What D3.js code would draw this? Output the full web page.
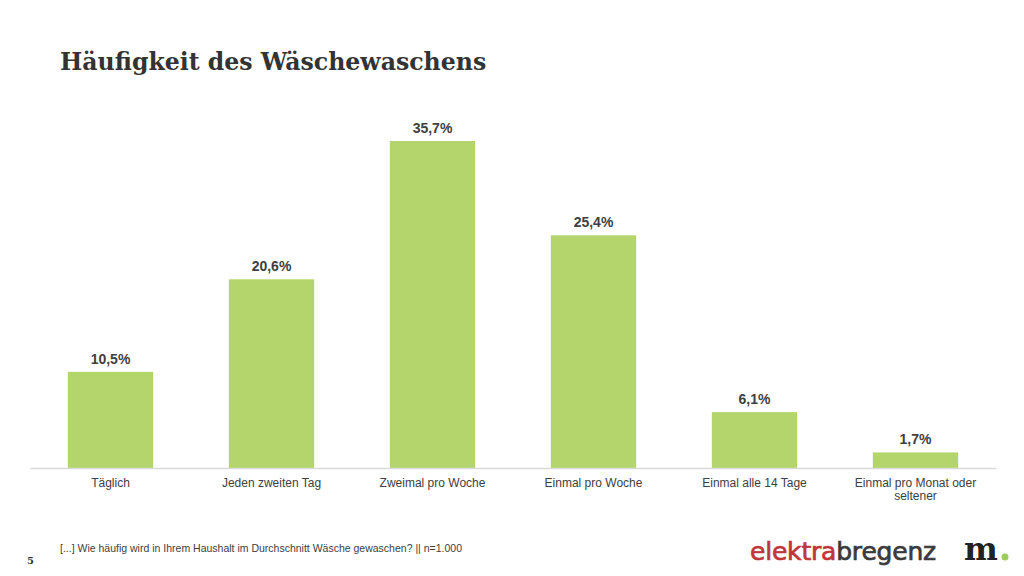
<!DOCTYPE html>
<html><head><meta charset="utf-8">
<script src="https://cdn.jsdelivr.net/npm/d3@7"></script>
<style>body{margin:0;background:#fff}svg{display:block}</style>
</head><body>
<svg id="c" width="1024" height="576"></svg>
<script>
const categories = ["Täglich","Jeden zweiten Tag","Zweimal pro Woche","Einmal pro Woche","Einmal alle 14 Tage","Einmal pro Monat oder seltener"];
const values = [10.5,20.6,35.7,25.4,6.1,1.7];
const valueLabels = ["10,5%","20,6%","35,7%","25,4%","6,1%","1,7%"];
const title = "Häufigkeit des Wäschewaschens";
const footnote = "[...] Wie häufig wird in Ihrem Haushalt im Durchschnitt Wäsche gewaschen? || n=1.000";

const svg = d3.select("#c");
const x = d3.scaleBand().domain(categories).range([30,996]).paddingInner(0.47).paddingOuter(0.235);
const y = d3.scaleLinear().domain([0,40]).range([468,101.6]);

svg.append("text").attr("x",60).attr("y",70).text(title)
  .attr("font-family","'DejaVu Serif', Georgia, serif").attr("font-weight","bold")
  .attr("font-size",23.6).attr("fill","#333");

svg.selectAll("rect.bar").data(values).join("rect").attr("class","bar")
  .attr("x",(d,i)=>x(categories[i])).attr("width",x.bandwidth())
  .attr("y",d=>y(d)).attr("height",d=>y(0)-y(d)).attr("fill","#b3d56b");

svg.selectAll("text.val").data(values).join("text").attr("class","val")
  .attr("x",(d,i)=>x(categories[i])+x.bandwidth()/2).attr("y",d=>y(d)-8)
  .attr("text-anchor","middle").attr("font-family","'Liberation Sans', Arial, sans-serif")
  .attr("font-weight","bold").attr("font-size",14).attr("fill","#404040")
  .text((d,i)=>valueLabels[i]);

const ax = svg.append("g").attr("transform","translate(0,468)").call(d3.axisBottom(x).tickSize(0).tickPadding(10));
ax.select(".domain").attr("stroke","#d9d9d9").attr("stroke-width",1.3);
ax.selectAll("text").attr("font-family","'Liberation Sans', Arial, sans-serif").attr("font-size",12).attr("fill","#404040")
  .each(function(d){
    const t = d3.select(this);
    if (d === "Einmal pro Monat oder seltener") {
      t.text(null);
      t.append("tspan").attr("x",0).attr("dy","0.71em").text("Einmal pro Monat oder");
      t.append("tspan").attr("x",0).attr("dy","1.1em").text("seltener");
      t.attr("dy",null);
    }
  });

svg.append("text").attr("x",60).attr("y",552).text(footnote)
  .attr("font-family","'Liberation Sans', Arial, sans-serif").attr("font-size",10.5).attr("fill","#404040");
svg.append("text").attr("x",27).attr("y",564).text("5")
  .attr("font-family","'DejaVu Serif', serif").attr("font-weight","bold").attr("font-size",10).attr("fill","#333");

const logo = svg.append("text").attr("x",750).attr("y",560)
  .attr("font-family","'DejaVu Sans', sans-serif").attr("font-size",25).attr("letter-spacing",-0.2)
  .attr("stroke-width",0.7);
logo.append("tspan").attr("fill","#c1353a").attr("stroke","#c1353a").text("elektra");
logo.append("tspan").attr("fill","#3a3a3a").attr("stroke","#3a3a3a").text("bregenz");
svg.append("text").attr("x",964).attr("y",560).text("m")
  .attr("font-family","'DejaVu Serif', serif").attr("font-weight","bold").attr("font-size",32).attr("fill","#222");
svg.append("circle").attr("cx",1005).attr("cy",557).attr("r",3.5).attr("fill","#9ccc5a");
</script>
</body></html>
